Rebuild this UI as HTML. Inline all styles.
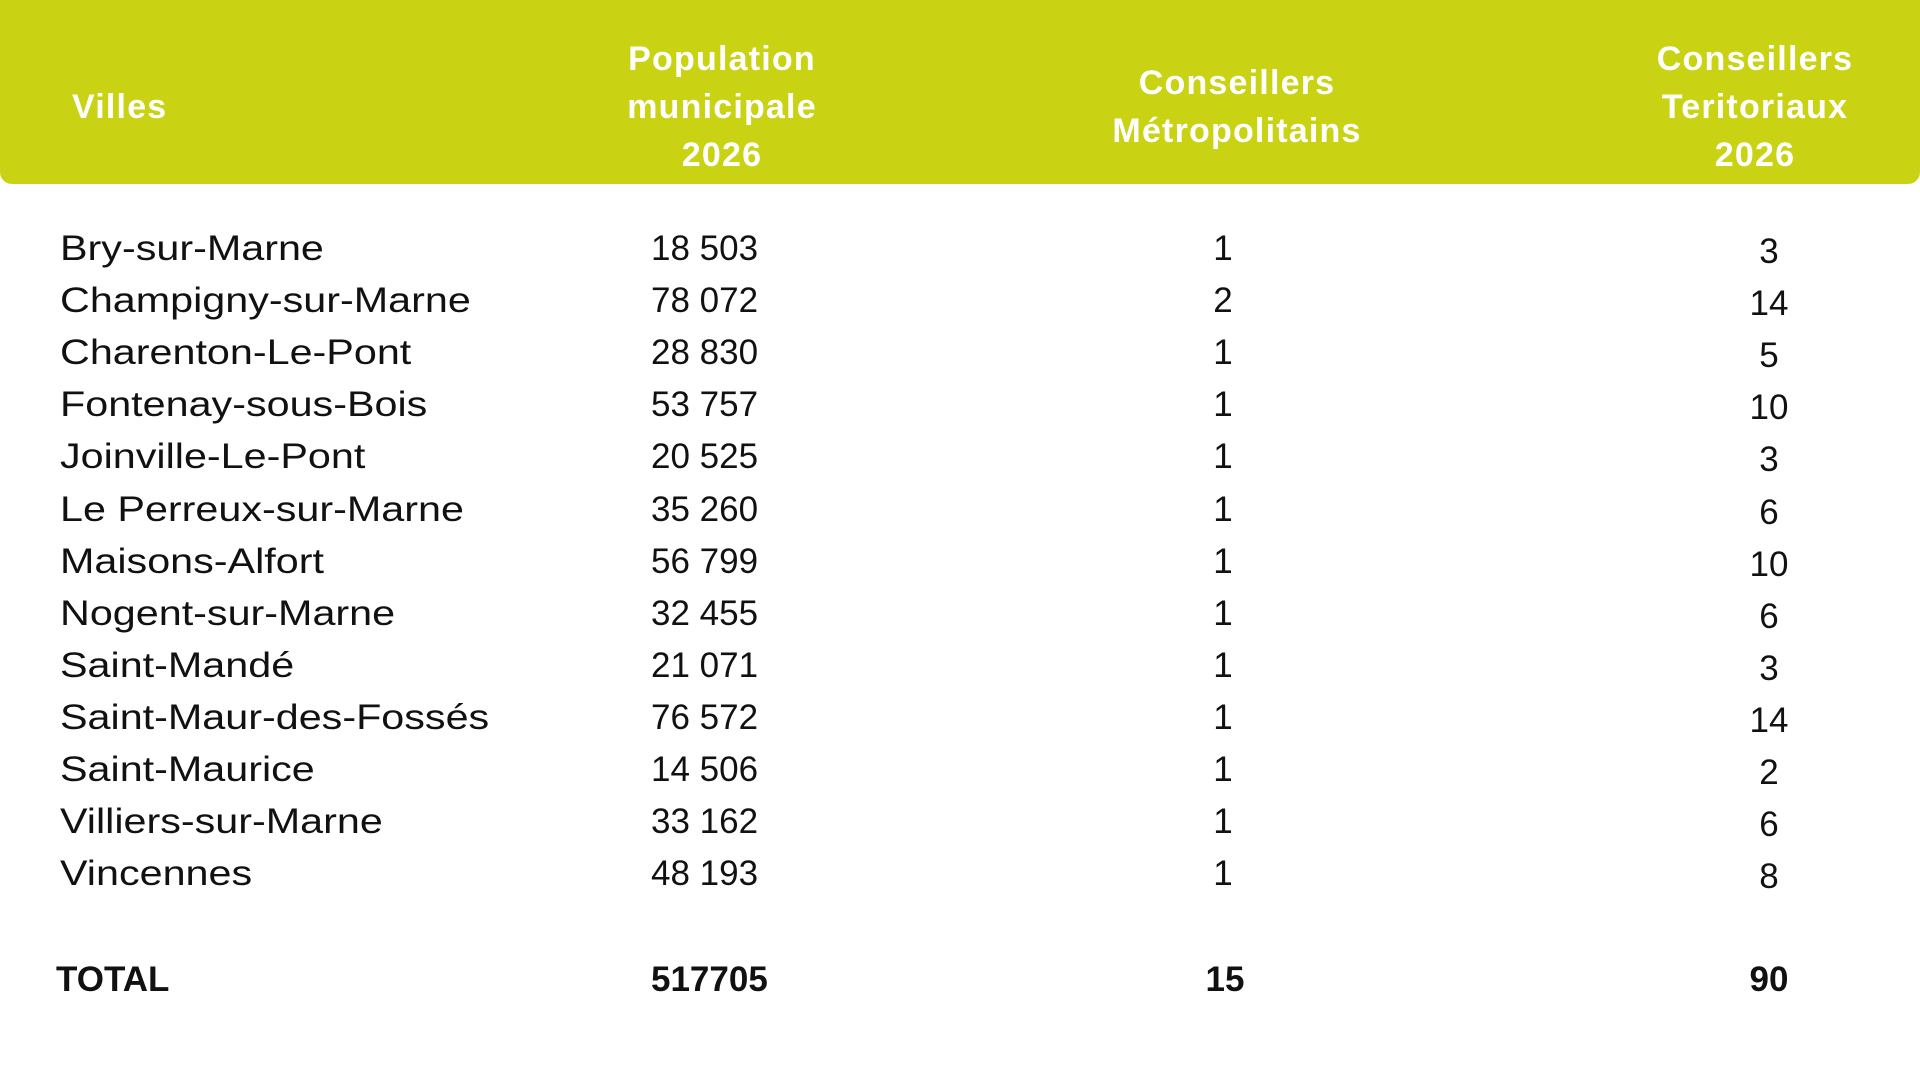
<!DOCTYPE html>
<html><head><meta charset="utf-8"><style>
body{margin:0;width:1920px;height:1080px;background:#fff;font-family:"Liberation Sans",sans-serif;position:relative;overflow:hidden;color:#111}
.hdr{position:absolute;left:0;top:0;width:1920px;height:184px;background:#c9d313;border-radius:0 0 12px 12px}
.h{position:absolute;color:#fff;font-weight:bold;font-size:34px;line-height:48px;text-align:center;transform:translate(-50%,-50%);white-space:nowrap;letter-spacing:1.2px}
.t{position:absolute;font-size:35px;line-height:40px;white-space:nowrap;transform:translateY(-50%)}
.n{transform:translateY(-50%) scaleX(1.18);transform-origin:left center}
.c{transform:translate(-50%,-50%)}
.b{font-weight:bold}
</style></head><body>
<div class="hdr"></div>
<div class="h" style="left:72px;top:107px;transform:translateY(-50%)">Villes</div>
<div class="h" style="left:722px;top:107px">Population<br>municipale<br>2026</div>
<div class="h" style="left:1237px;top:107px">Conseillers<br>Métropolitains</div>
<div class="h" style="left:1755px;top:107px">Conseillers<br>Teritoriaux<br>2026</div>
<div id="rows"></div>
<script>
var d=[["Bry-sur-Marne","18 503",1,3],["Champigny-sur-Marne","78 072",2,14],["Charenton-Le-Pont","28 830",1,5],["Fontenay-sous-Bois","53 757",1,10],["Joinville-Le-Pont","20 525",1,3],["Le Perreux-sur-Marne","35 260",1,6],["Maisons-Alfort","56 799",1,10],["Nogent-sur-Marne","32 455",1,6],["Saint-Mandé","21 071",1,3],["Saint-Maur-des-Fossés","76 572",1,14],["Saint-Maurice","14 506",1,2],["Villiers-sur-Marne","33 162",1,6],["Vincennes","48 193",1,8]];
var h="";
d.forEach(function(r,i){var y=249+52.1*i;
h+='<div class="t n" style="left:60px;top:'+y+'px">'+r[0]+'</div>';
h+='<div class="t" style="left:651px;top:'+y+'px">'+r[1]+'</div>';
h+='<div class="t c" style="left:1223px;top:'+y+'px">'+r[2]+'</div>';
h+='<div class="t c" style="left:1769px;top:'+(y+3)+'px">'+r[3]+'</div>';});
var y=980;
h+='<div class="t b" style="left:56px;top:'+y+'px">TOTAL</div>';
h+='<div class="t b" style="left:651px;top:'+y+'px">517705</div>';
h+='<div class="t b c" style="left:1225px;top:'+y+'px">15</div>';
h+='<div class="t b c" style="left:1769px;top:'+y+'px">90</div>';
document.getElementById("rows").innerHTML=h;
</script>
</body></html>
